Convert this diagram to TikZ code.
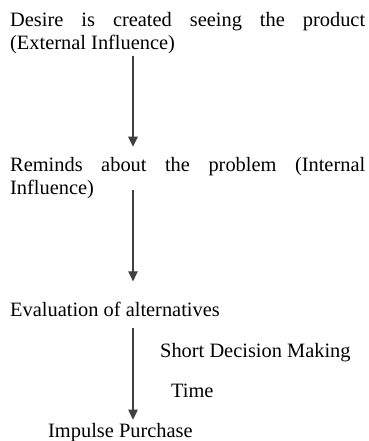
\documentclass[tikz,border=0pt]{standalone}
\usepackage{fontspec}
\setmainfont{Liberation Serif}
\usetikzlibrary{arrows.meta}
\tikzset{
  txt/.style={inner sep=0pt, anchor=base west, font=\fontsize{20.4}{23}\selectfont, text=black},
  para/.style={txt, text width=355pt, align=justify},
  arr/.style={draw=black!75, line width=1.2pt, -{Triangle[length=10pt,width=9.5pt]}}
}
\begin{document}
\begin{tikzpicture}[x=1pt,y=1pt]
\clip (0,0) rectangle (368,441);
\coordinate (ax) at (133,0);
\node[para] (n1) at (10,414) {Desire is created seeing the product\linebreak(External Influence)};
\node[para] (n2) at (10,269.3) {Reminds about the problem (Internal\linebreak Influence)};
\node[txt] (n3) at (10,124.3) {Evaluation of alternatives};
\node[txt] (n4) at (160,83) {Short Decision Making};
\node[txt] (n5) at (171,43) {Time};
\node[txt] (n6) at (48,3) {Impulse Purchase};
\draw[arr, shorten <=1pt, shorten >=10.6pt] (n1.south -| ax) -- (n2.north -| ax);
\draw[arr, shorten <=-9pt, shorten >=20.8pt] (n2.south -| ax) -- (n3.north -| ax);
\draw[arr, shorten <=11.3pt, shorten >=4pt] (n3.south -| ax) -- (n6.north -| ax);
\end{tikzpicture}
\end{document}
